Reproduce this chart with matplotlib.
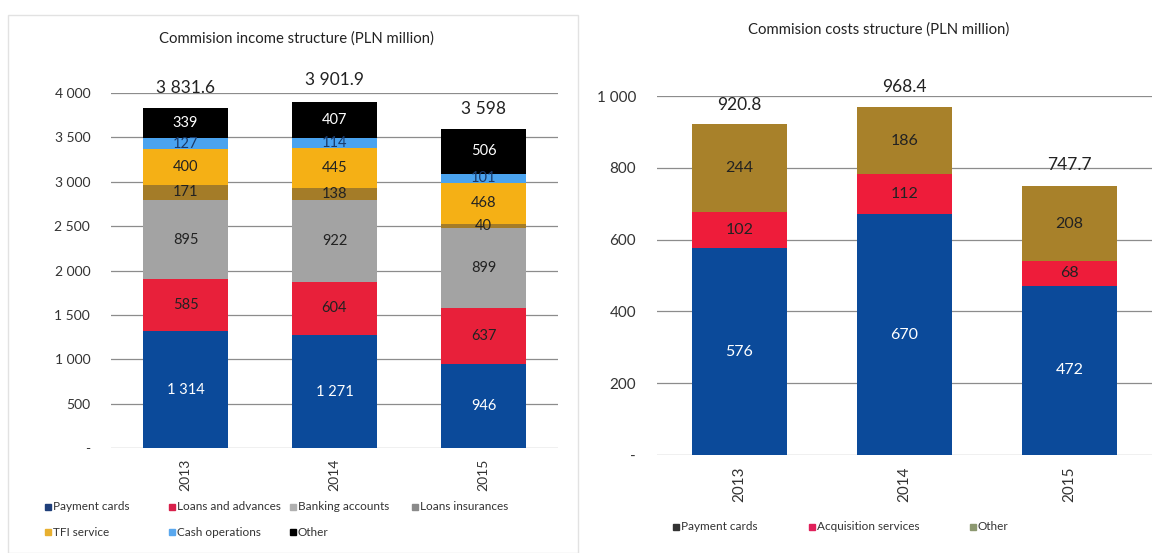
import matplotlib
matplotlib.use('Agg')
import matplotlib.pyplot as plt
from matplotlib.patches import Rectangle
from matplotlib.ticker import FuncFormatter

plt.rcParams['font.family'] = ['Lato', 'DejaVu Sans']

# Data
years = ['2013', '2014', '2015']

income_labels = ['Payment cards', 'Loans and advances', 'Banking accounts', 'Loans insurances',
                 'TFI service', 'Cash operations', 'Other']
income_values = [
    [1314, 1271, 946],   # Payment cards
    [585, 604, 637],     # Loans and advances
    [895, 922, 899],     # Banking accounts
    [171, 138, 40],      # Loans insurances
    [400, 445, 468],     # TFI service
    [127, 114, 101],     # Cash operations
    [339, 407, 506],     # Other
]
income_totals = ['3 831.6', '3 901.9', '3 598']

cost_labels = ['Payment cards', 'Acquisition services', 'Other']
cost_values = [
    [576, 670, 472],
    [102, 112, 68],
    [244, 186, 208],
]
cost_totals = ['920.8', '968.4', '747.7']

income_colors = ['#0b4a9a', '#e8203a', '#a3a3a3', '#a47c28', '#f5b015', '#4aa3ef', '#000000']
income_text = ['white', '#222222', '#222222', '#222222', '#222222', '#1a3a6a', 'white']
income_legend_colors = ['#1f3f7a', '#d8204a', '#b0b0b0', '#8a8a8a', '#e8b030', '#5aa8ee', '#000000']

cost_colors = ['#0b4a9a', '#ee1c3a', '#a8812a']
cost_text = ['white', '#222222', '#222222']
cost_legend_colors = ['#333333', '#e0205a', '#8c9870']

W, H = 1159, 553
fig = plt.figure(figsize=(W / 100, H / 100), dpi=100)

# light frame around the left panel
fig.patches.append(Rectangle((8 / W, 0), 570 / W, (H - 15) / H, transform=fig.transFigure,
                             fill=False, edgecolor='#e2e2e2', linewidth=1))


def fmt(v, pos):
    if v == 0:
        return '-'
    return f'{int(v):,}'.replace(',', ' ')


def px_axes(x0, x1, ytop, ybot):
    return fig.add_axes([x0 / W, (H - ybot) / H, (x1 - x0) / W, (ybot - ytop) / H])


def stacked(ax, values, colors, tcolors, fs):
    bottom = [0, 0, 0]
    for vals, c, tc in zip(values, colors, tcolors):
        bars = ax.bar(range(len(years)), vals, bottom=bottom, width=0.57, color=c, zorder=2)
        for b, v, btm in zip(bars, vals, bottom):
            ax.text(b.get_x() + b.get_width() / 2, btm + v / 2, f'{v:,}'.replace(',', ' '),
                    ha='center', va='center', color=tc, fontsize=fs, zorder=3)
        bottom = [a + b for a, b in zip(bottom, vals)]
    return bottom


def style(ax, ymax, step, fs, pad):
    ax.set_xlim(-0.5, 2.5)
    ax.set_ylim(0, ymax)
    ax.set_yticks(range(0, ymax + 1, step))
    ax.yaxis.set_major_formatter(FuncFormatter(fmt))
    ax.grid(axis='y', color='#8c8c8c', linewidth=0.9, zorder=0)
    for s in ax.spines.values():
        s.set_visible(False)
    ax.tick_params(axis='both', length=0, labelsize=fs, colors='#333333')
    ax.tick_params(axis='y', pad=pad)
    ax.set_xticks(range(len(years)))
    ax.set_xticklabels(years, rotation=90)


def legend_item(x, y, label, color, fs):
    fig.patches.append(Rectangle(((x - 3) / W, (H - y - 3) / H), 6 / W, 6 / H,
                                 transform=fig.transFigure, color=color))
    fig.text((x + 5) / W, (H - y) / H, label, fontsize=fs, va='center', ha='left', color='#333333')


# Left chart: commission income
ax1 = px_axes(111, 558, 93, 448)
tops = stacked(ax1, income_values, income_colors, income_text, 10.5)
style(ax1, 4000, 500, 10, 15)
ax1.tick_params(axis='x', pad=8)
lifts = [225, 250, 225]
for i, (t, top) in enumerate(zip(income_totals, tops)):
    ax1.text(i, top + lifts[i], t, ha='center', va='center', fontsize=12.5, color='#222222')
fig.text(296 / W, (H - 39) / H, 'Commision income structure (PLN million)', ha='center', va='center',
         fontsize=10.7, color='#222222')

leg_pos = [(48, 507), (172, 507), (293, 507), (415, 507), (48, 532), (172, 532), (293, 532)]
for (x, y), lab, c in zip(leg_pos, income_labels, income_legend_colors):
    legend_item(x, y, lab, c, 8.5)

# Right chart: commission costs
ax2 = px_axes(657, 1152, 96, 455)
tops2 = stacked(ax2, cost_values, cost_colors, cost_text, 11.5)
style(ax2, 1000, 200, 11, 15)
ax2.tick_params(axis='x', pad=8)
lifts2 = [53, 58, 61]
for i, (t, top) in enumerate(zip(cost_totals, tops2)):
    ax2.text(i, top + lifts2[i], t, ha='center', va='center', fontsize=12.5, color='#222222')
fig.text(879 / W, (H - 30) / H, 'Commision costs structure (PLN million)', ha='center', va='center',
         fontsize=10.7, color='#222222')

leg_pos2 = [(676, 527), (812, 527), (973, 527)]
for (x, y), lab, c in zip(leg_pos2, cost_labels, cost_legend_colors):
    legend_item(x, y, lab, c, 8.5)

fig.savefig('out.png', dpi=100)
